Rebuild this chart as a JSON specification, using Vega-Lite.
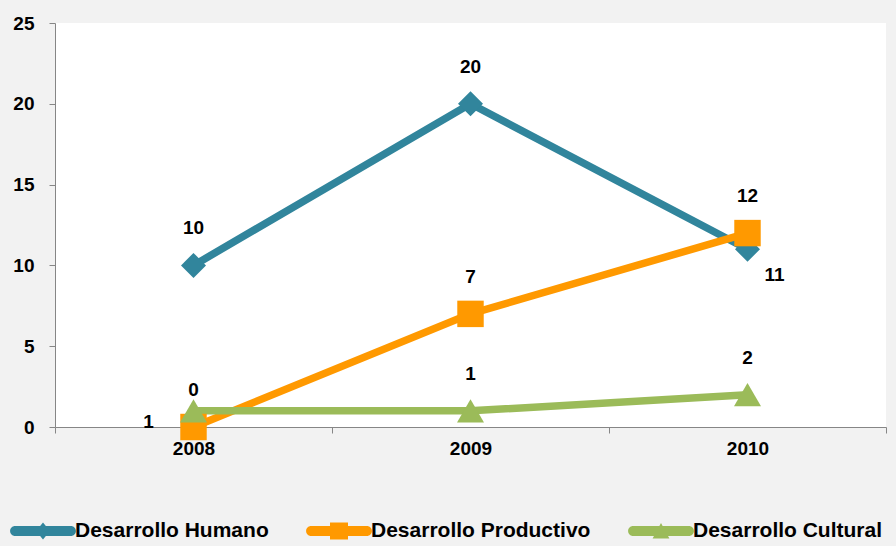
{
  "$schema": "https://vega.github.io/schema/vega-lite/v6.json",
  "width": 831,
  "height": 404,
  "autosize": "none",
  "padding": {"left": 55, "top": 23, "right": 10, "bottom": 119},
  "background": "#F2F2F2",
  "config": {
    "view": {"fill": "white", "stroke": null},
    "font": "Liberation Sans"
  },
  "data": {
    "values": [
      {"year": "2008", "series": "Desarrollo Humano", "value": 10},
      {"year": "2009", "series": "Desarrollo Humano", "value": 20},
      {"year": "2010", "series": "Desarrollo Humano", "value": 11},
      {"year": "2008", "series": "Desarrollo Productivo", "value": 0},
      {"year": "2009", "series": "Desarrollo Productivo", "value": 7},
      {"year": "2010", "series": "Desarrollo Productivo", "value": 12},
      {"year": "2008", "series": "Desarrollo Cultural", "value": 1},
      {"year": "2009", "series": "Desarrollo Cultural", "value": 1},
      {"year": "2010", "series": "Desarrollo Cultural", "value": 2}
    ]
  },
  "encoding": {
    "x": {
      "field": "year", "type": "ordinal",
      "scale": {"type": "band", "paddingInner": 0, "paddingOuter": 0},
      "axis": {
        "title": null, "labelAngle": 0, "tickBand": "extent",
        "domainColor": "#868686", "tickColor": "#868686", "tickSize": 6,
        "labelFont": "Liberation Sans", "labelFontWeight": "bold", "labelFontSize": 19,
        "labelColor": "black", "labelPadding": 6
      }
    },
    "y": {
      "field": "value", "type": "quantitative",
      "scale": {"domain": [0, 25]},
      "axis": {
        "title": null, "values": [0, 5, 10, 15, 20, 25], "grid": false,
        "domainColor": "#868686", "tickColor": "#868686", "tickSize": 6,
        "labelFont": "Liberation Sans", "labelFontWeight": "bold", "labelFontSize": 19,
        "labelColor": "black", "labelPadding": 15
      }
    }
  },
  "layer": [
    {
      "mark": {"type": "line", "strokeWidth": 7.5},
      "encoding": {
        "color": {
          "field": "series", "type": "nominal",
          "scale": {
            "domain": ["Desarrollo Humano", "Desarrollo Productivo", "Desarrollo Cultural"],
            "range": ["#31859C", "#FF9900", "#9BBB59"]
          },
          "legend": {
            "title": null, "orient": "none", "legendX": -42, "legendY": 478,
            "direction": "horizontal", "columnPadding": 37, "padding": 0,
            "labelFont": "Liberation Sans", "labelFontWeight": "bold", "labelFontSize": 21,
            "labelColor": "black", "labelLimit": 400, "symbolSize": 3600, "labelOffset": 2,
            "symbolStrokeWidth": 0, "symbolOpacity": 1,
            "encode": {
              "symbols": {
                "update": {
                  "shape": {"signal": "datum.value == 'Desarrollo Humano' ? 'M-0.93,-0.167 H0.93 A0.167,0.167 0 0 1 0.93,0.167 H-0.93 A0.167,0.167 0 0 1 -0.93,-0.167 Z M0,-0.283 L0.23,0 L0,0.283 L-0.23,0 Z' : datum.value == 'Desarrollo Productivo' ? 'M-0.93,-0.167 H0.93 A0.167,0.167 0 0 1 0.93,0.167 H-0.93 A0.167,0.167 0 0 1 -0.93,-0.167 Z M-0.3,-0.28 H0.3 V0.28 H-0.3 Z' : 'M-0.93,-0.167 H0.93 A0.167,0.167 0 0 1 0.93,0.167 H-0.93 A0.167,0.167 0 0 1 -0.93,-0.167 Z M0,-0.27 L0.28,0.25 L-0.28,0.25 Z'"},
                  "fill": {"scale": "color", "field": "value"},
                  "strokeWidth": {"value": 0},
                  "size": {"value": 3600}
                }
              }
            }
          }
        }
      }
    },
    {
      "transform": [{"filter": "datum.series == 'Desarrollo Humano'"}],
      "mark": {"type": "point", "filled": true, "opacity": 1, "shape": "diamond", "size": 625},
      "encoding": {"color": {"field": "series", "type": "nominal"}}
    },
    {
      "transform": [{"filter": "datum.series == 'Desarrollo Productivo'"}],
      "mark": {"type": "point", "filled": true, "opacity": 1, "shape": "square", "size": 700},
      "encoding": {"color": {"field": "series", "type": "nominal"}}
    },
    {
      "transform": [{"filter": "datum.series == 'Desarrollo Cultural'"}],
      "mark": {"type": "point", "filled": true, "opacity": 1, "shape": "triangle-up", "size": 729},
      "encoding": {"color": {"field": "series", "type": "nominal"}}
    },
    {
      "transform": [{"filter": "!(datum.series == 'Desarrollo Humano' && datum.year == '2010') && !(datum.series == 'Desarrollo Cultural' && datum.year == '2008')"}],
      "mark": {"type": "text", "dy": -37, "fontSize": 19, "fontWeight": "bold", "font": "Liberation Sans", "color": "black"},
      "encoding": {"text": {"field": "value", "type": "quantitative"}}
    },
    {
      "transform": [{"filter": "datum.series == 'Desarrollo Humano' && datum.year == '2010'"}],
      "mark": {"type": "text", "dx": 27, "dy": 26, "fontSize": 19, "fontWeight": "bold", "font": "Liberation Sans", "color": "black"},
      "encoding": {"text": {"field": "value", "type": "quantitative"}}
    },
    {
      "transform": [{"filter": "datum.series == 'Desarrollo Cultural' && datum.year == '2008'"}],
      "mark": {"type": "text", "dx": -45, "dy": 11, "fontSize": 19, "fontWeight": "bold", "font": "Liberation Sans", "color": "black"},
      "encoding": {"text": {"field": "value", "type": "quantitative"}}
    }
  ]
}
